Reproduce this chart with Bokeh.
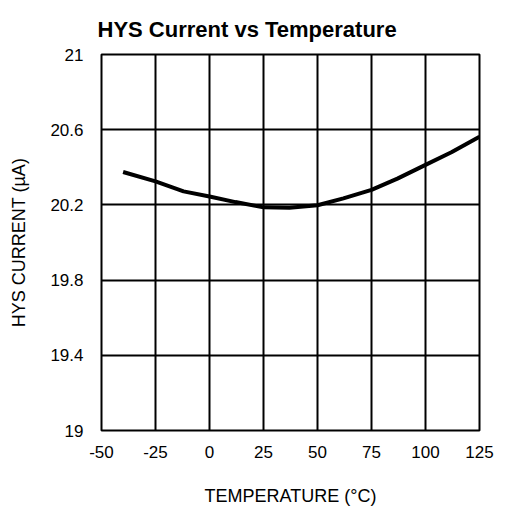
from bokeh.plotting import figure
from bokeh.embed import file_html
from bokeh.resources import INLINE
from bokeh.models import FixedTicker, Range1d

temperature = [-40, -25, -12, 0, 12, 25, 37, 50, 62, 75, 87, 100, 112, 125]
hys_current = [20.375, 20.325, 20.272, 20.245, 20.215, 20.187, 20.185, 20.198, 20.235, 20.28, 20.34, 20.413, 20.48, 20.563]

x_ticks = [-50, -25, 0, 25, 50, 75, 100, 125]
x_labels = ["-50", "-25", "0", "25", "50", "75", "100", "125"]
y_ticks = [19, 19.4, 19.8, 20.2, 20.6, 21]
y_labels = ["19", "19.4", "19.8", "20.2", "20.6", "21"]

FONT = "Liberation Sans"

p = figure(width=500, height=508, output_backend="svg", toolbar_location=None,
           x_range=Range1d(-50, 125), y_range=Range1d(19, 21),
           min_border_left=101, min_border_right=21, min_border_top=54, min_border_bottom=76,
           title="HYS Current vs Temperature")

p.title.text_font = FONT
p.title.text_font_size = "22px"
p.title.text_font_style = "bold"
p.title.align = "left"
p.title.offset = -4
p.title.standoff = 26
p.title.text_color = "black"

p.line(temperature, hys_current, line_width=4, color="black")

p.outline_line_color = "black"
p.outline_line_width = 2

for ax in (p.xaxis[0], p.yaxis[0]):
    ax.axis_line_color = None
    ax.major_tick_line_color = None
    ax.minor_tick_line_color = None
    ax.major_label_text_font = FONT
    ax.major_label_text_font_size = "17px"
    ax.major_label_text_color = "black"
    ax.axis_label_text_font = FONT
    ax.axis_label_text_font_size = "18px"
    ax.axis_label_text_font_style = "normal"
    ax.axis_label_text_color = "black"

p.xaxis.ticker = FixedTicker(ticks=x_ticks)
p.yaxis.ticker = FixedTicker(ticks=y_ticks)
p.xaxis.major_label_overrides = {t: s for t, s in zip(x_ticks, x_labels)}
p.yaxis.major_label_overrides = {t: s for t, s in zip(y_ticks, y_labels)}
p.xaxis.axis_label = "TEMPERATURE (°C)"
p.yaxis.axis_label = "HYS CURRENT (µA)"
p.xaxis.major_label_standoff = 9
p.yaxis.major_label_standoff = 12
p.xaxis.axis_label_standoff = 25
p.yaxis.axis_label_standoff = 18

p.xgrid.grid_line_color = "black"
p.ygrid.grid_line_color = "black"
p.xgrid.grid_line_width = 2
p.ygrid.grid_line_width = 2
p.xgrid.grid_line_alpha = 1
p.ygrid.grid_line_alpha = 1

open("out.html", "w").write(file_html(p, INLINE))
